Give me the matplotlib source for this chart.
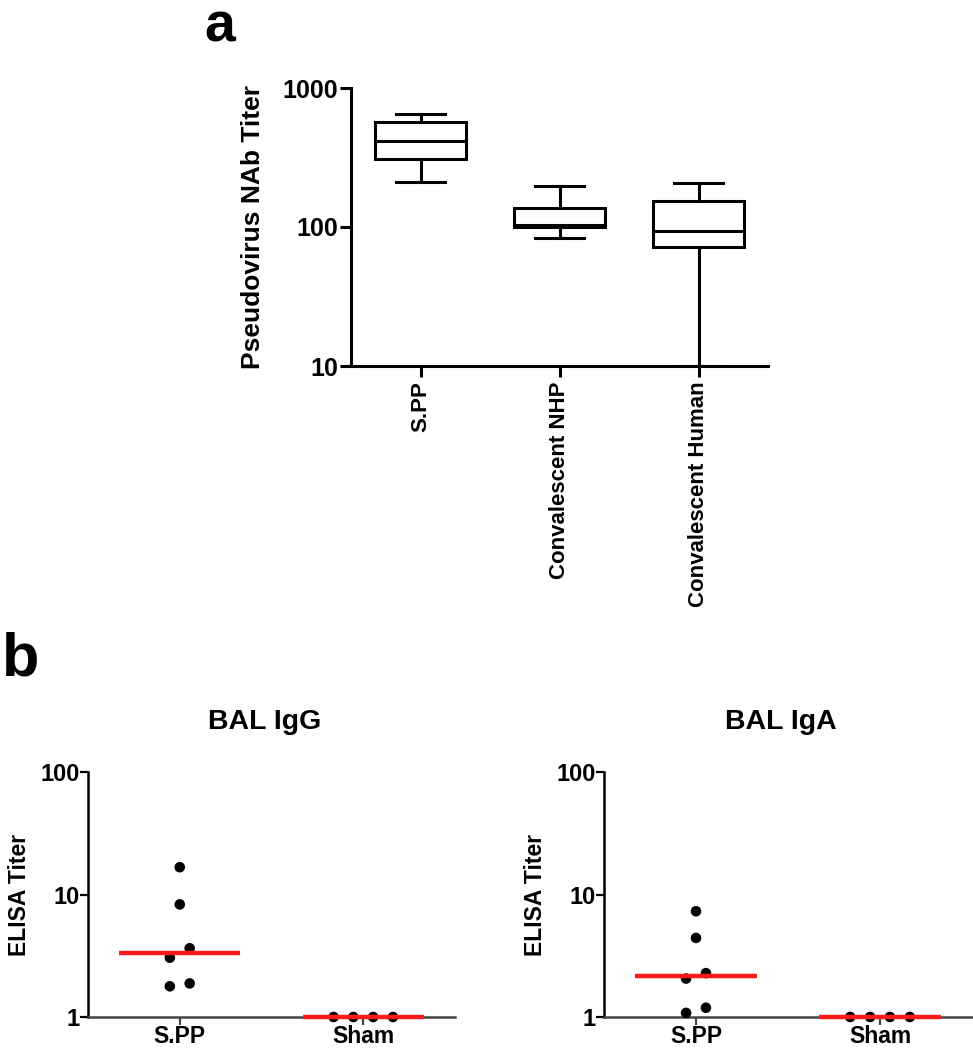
import numpy as np
import matplotlib
matplotlib.use("Agg")
import matplotlib.pyplot as plt
from matplotlib.ticker import FixedLocator, FixedFormatter, NullLocator

plt.rcParams["font.family"] = ["Liberation Sans", "DejaVu Sans"]
plt.rcParams["font.weight"] = "bold"

# ── Panel a: box summaries ──────────────────────────────────────────────────
box_groups = ["S.PP", "Convalescent NHP", "Convalescent Human"]
box_whislo = [211, 84, 10]
box_q1     = [308, 100, 72]
box_med    = [416, 103, 94]
box_q3     = [569, 136, 155]
box_whishi = [650, 197, 206]

# ── Panel b: BAL ELISA titers ───────────────────────────────────────────────
bal_groups = ["S.PP", "Sham"]
igg_spp  = [16.7, 8.3, 3.64, 3.05, 1.88, 1.78]
igg_sham = [1, 1, 1, 1]
iga_spp  = [7.3, 4.42, 2.28, 2.06, 1.19, 1.08]
iga_sham = [1, 1, 1, 1]


def swarm_offsets(vals, row_thresh=0.09, step=0.108):
    """GraphPad-like centred rows: points close in log-y share a row."""
    vals = np.asarray(vals, dtype=float)
    logs = np.log10(vals)
    offsets = np.zeros(len(vals))
    rows = []
    for i in np.argsort(logs, kind="stable"):
        if rows and logs[i] - logs[rows[-1][0]] < row_thresh:
            rows[-1].append(i)
        else:
            rows.append([i])
    for row in rows:
        n = len(row)
        for k, i in enumerate(row):
            offsets[i] = (k - (n - 1) / 2) * step
    return offsets


fig = plt.figure(figsize=(9.73, 10.5), dpi=100)

# ── Panel a ─────────────────────────────────────────────────────────────────
ax = fig.add_axes([351 / 973, 1 - 366 / 1050, 417 / 973, 278 / 1050])
stats = []
for i, g in enumerate(box_groups):
    stats.append(dict(label=g, whislo=box_whislo[i], q1=box_q1[i],
                      med=box_med[i], q3=box_q3[i], whishi=box_whishi[i],
                      fliers=[]))
lw = 2.2
ax.bxp(stats, positions=range(len(box_groups)), widths=0.65, capwidths=0.35,
       showfliers=False, patch_artist=True,
       boxprops=dict(facecolor="white", edgecolor="black", linewidth=lw),
       medianprops=dict(color="black", linewidth=lw),
       whiskerprops=dict(color="black", linewidth=lw),
       capprops=dict(color="black", linewidth=lw))
ax.set_yscale("log")
ax.set_ylim(10, 1000)
ax.set_xlim(-0.5, 2.5)
ax.yaxis.set_major_locator(FixedLocator([10, 100, 1000]))
ax.yaxis.set_major_formatter(FixedFormatter(["10", "100", "1000"]))
ax.yaxis.set_minor_locator(NullLocator())
ax.set_xticks(range(len(box_groups)))
ax.set_xticklabels(box_groups, rotation=90, fontsize=16, fontweight="bold")
ax.tick_params(axis="y", labelsize=18, length=8, width=lw, pad=1)
ax.tick_params(axis="x", length=8, width=lw, pad=3)
for s in ["top", "right"]:
    ax.spines[s].set_visible(False)
for s in ["left", "bottom"]:
    ax.spines[s].set_linewidth(lw)
ax.set_ylabel("Pseudovirus NAb Titer", fontsize=19, fontweight="bold",
              labelpad=13)
for t in ax.get_yticklabels():
    t.set_fontweight("bold")

fig.text(220 / 973, 1 - 42 / 1050, "a", fontsize=40, fontweight="bold",
         ha="center", va="baseline")
fig.text(21 / 973, 1 - 675 / 1050, "b", fontsize=44, fontweight="bold",
         ha="center", va="baseline")

# ── Panel b ─────────────────────────────────────────────────────────────────
def bal_panel(rect, title, spp, sham):
    bx = fig.add_axes(rect)
    for pos, vals in enumerate([spp, sham]):
        off = swarm_offsets(vals)
        bx.scatter(pos + off, vals, s=58, color="black", zorder=3,
                   clip_on=False, edgecolors="none")
        med = np.median(vals)
        bx.plot([pos - 0.33, pos + 0.33], [med, med], color="#ff1a1a",
                linewidth=3.2, zorder=4, solid_capstyle="butt", clip_on=False)
    bx.set_yscale("log")
    bx.set_ylim(1, 100)
    bx.set_xlim(-0.5, 1.5)
    bx.yaxis.set_major_locator(FixedLocator([1, 10, 100]))
    bx.yaxis.set_major_formatter(FixedFormatter(["1", "10", "100"]))
    bx.yaxis.set_minor_locator(NullLocator())
    bx.set_xticks(range(len(bal_groups)))
    bx.set_xticklabels(bal_groups, fontsize=16.5, fontweight="bold")
    bx.tick_params(axis="y", labelsize=17, length=6, width=1.6, pad=0)
    bx.tick_params(axis="x", length=6, width=1.6, pad=0, color="#444444")
    for s in ["top", "right"]:
        bx.spines[s].set_visible(False)
    bx.spines["left"].set_linewidth(1.8)
    bx.spines["bottom"].set_linewidth(1.8)
    bx.spines["bottom"].set_color("#444444")
    for t in bx.get_yticklabels():
        t.set_fontweight("bold")
    bx.set_ylabel("ELISA Titer", fontsize=16.5, fontweight="bold", labelpad=7)
    bx.set_title(title, fontsize=20.5, fontweight="bold", pad=31, x=0.48)
    return bx


bal_panel([88 / 973, 1 - 1017 / 1050, 367 / 973, 245 / 1050],
          "BAL IgG", igg_spp, igg_sham)
bal_panel([604 / 973, 1 - 1017 / 1050, 368 / 973, 245 / 1050],
          "BAL IgA", iga_spp, iga_sham)

fig.savefig("out.png", dpi=100)
